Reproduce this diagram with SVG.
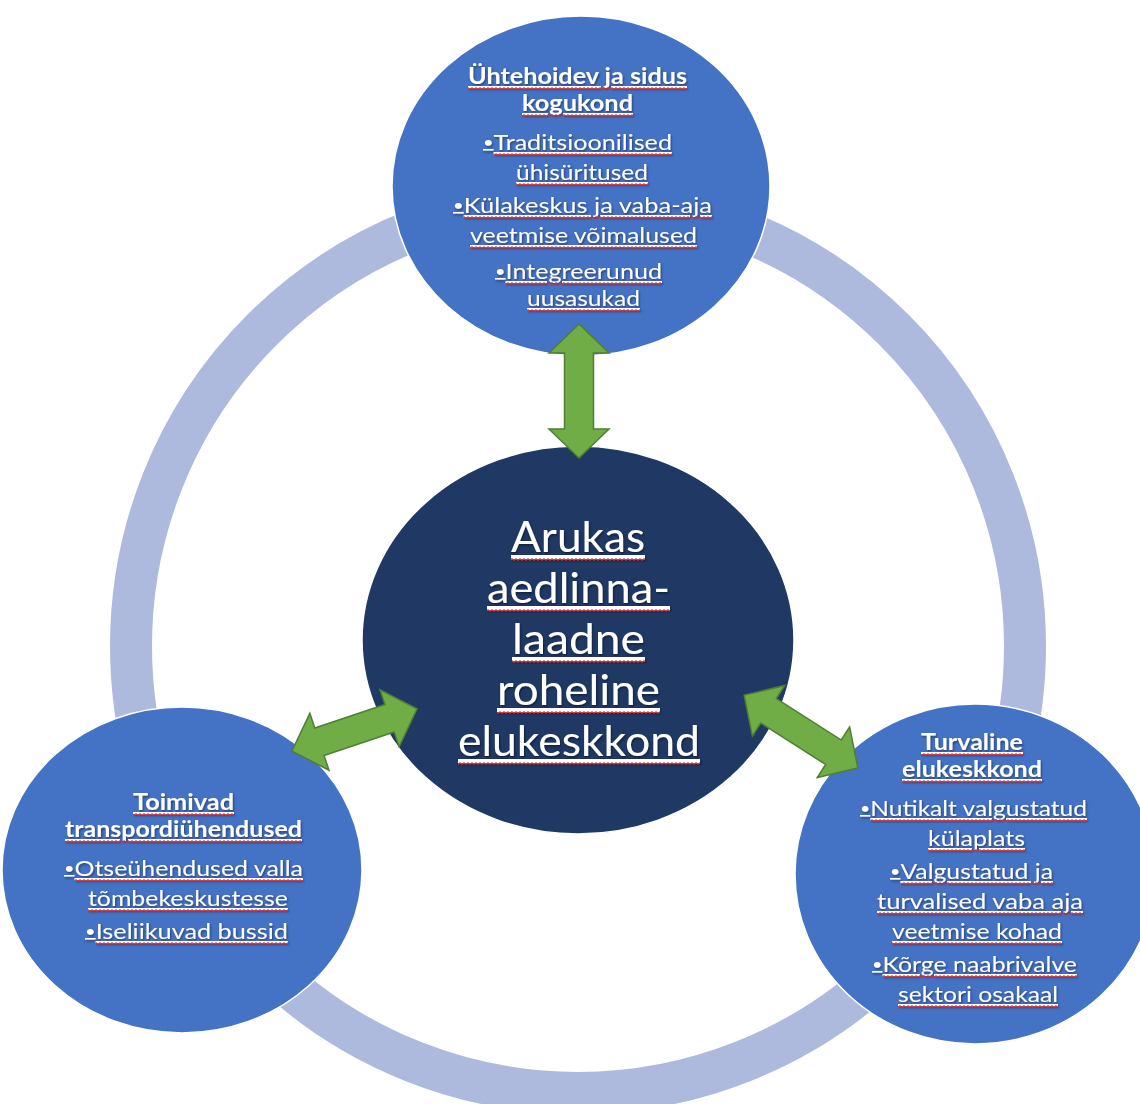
<svg xmlns="http://www.w3.org/2000/svg" width="1140" height="1104" viewBox="0 0 1140 1104">
  <defs>
    <pattern id="wave" x="0" y="0" width="4" height="3" patternUnits="userSpaceOnUse">
      <path d="M0 0.6 L2 2.4 L4 0.6" fill="none" stroke="#e3242b" stroke-width="1.1"/>
    </pattern>
    <filter id="shadow" x="-10%" y="-30%" width="120%" height="160%">
      <feDropShadow dx="1" dy="1.5" stdDeviation="1" flood-color="#000" flood-opacity="0.45"/>
    </filter>
  </defs>
  <style>
    .bg { fill: #ffffff; }
    .ring { fill: none; stroke: #aebadd; stroke-width: 42; }
    .blue { fill: #4472c4; stroke: #ffffff; stroke-width: 1.5; }
    .dark { fill: #1f3864; stroke: #ffffff; stroke-width: 1.5; }
    .arrow { fill: #70ad47; stroke: #507e32; stroke-width: 1.5; stroke-linejoin: miter; }
    text { fill: #ffffff; font-family: Lato, "Open Sans", "Liberation Sans", sans-serif; text-anchor: middle; text-decoration: underline; filter: url(#shadow); }
    .h { font-size: 22px; font-weight: bold; }
    .b { font-size: 22px; font-weight: normal; }
    .c { font-size: 43px; font-weight: normal; }
    .bu { font-size: 16px; }
    .sq { fill: url(#wave); }
    .sqc { fill: url(#wave); }
  </style>
  <rect class="bg" x="0" y="0" width="1140" height="1104"/>

  <g id="ring">
    <circle class="ring" cx="578" cy="646" r="447"/>
  </g>

  <g id="node-top">
    <ellipse class="blue" cx="581" cy="186" rx="189" ry="170"/>
    <text class="h" x="577.5" y="84" textLength="219" lengthAdjust="spacingAndGlyphs">Ühtehoidev ja sidus</text>
    <text class="h" x="577.5" y="111" textLength="111" lengthAdjust="spacingAndGlyphs">kogukond</text>
    <text class="b" x="577.5" y="150" textLength="189" lengthAdjust="spacingAndGlyphs"><tspan class="bu" dy="-2">•</tspan><tspan dy="2">Traditsioonilised</tspan></text>
    <text class="b" x="582" y="180" textLength="132" lengthAdjust="spacingAndGlyphs">ühisüritused</text>
    <text class="b" x="582.5" y="213" textLength="259" lengthAdjust="spacingAndGlyphs"><tspan class="bu" dy="-2">•</tspan><tspan dy="2">Külakeskus ja vaba-aja</tspan></text>
    <text class="b" x="583.5" y="243" textLength="227" lengthAdjust="spacingAndGlyphs">veetmise võimalused</text>
    <text class="b" x="578.5" y="279" textLength="167" lengthAdjust="spacingAndGlyphs"><tspan class="bu" dy="-2">•</tspan><tspan dy="2">Integreerunud</tspan></text>
    <text class="b" x="583.5" y="306" textLength="113" lengthAdjust="spacingAndGlyphs">uusasukad</text>
    <rect class="sq" x="468" y="87" width="219" height="3"/>
    <rect class="sq" x="522" y="114" width="111" height="3"/>
    <rect class="sq" x="494" y="153" width="178" height="3"/>
    <rect class="sq" x="516" y="183" width="132" height="3"/>
    <rect class="sq" x="464" y="216" width="248" height="3"/>
    <rect class="sq" x="470" y="246" width="227" height="3"/>
    <rect class="sq" x="506" y="282" width="156" height="3"/>
    <rect class="sq" x="527" y="309" width="113" height="3"/>
  </g>

  <g id="node-left">
    <ellipse class="blue" cx="182" cy="870" rx="180" ry="163"/>
    <text class="h" x="183.5" y="810" textLength="101" lengthAdjust="spacingAndGlyphs">Toimivad</text>
    <text class="h" x="183.5" y="837" textLength="237" lengthAdjust="spacingAndGlyphs">transpordiühendused</text>
    <text class="b" x="183.5" y="876" textLength="239" lengthAdjust="spacingAndGlyphs"><tspan class="bu" dy="-2">•</tspan><tspan dy="2">Otseühendused valla</tspan></text>
    <text class="b" x="188" y="906" textLength="200" lengthAdjust="spacingAndGlyphs">tõmbekeskustesse</text>
    <text class="b" x="186.5" y="939" textLength="203" lengthAdjust="spacingAndGlyphs"><tspan class="bu" dy="-2">•</tspan><tspan dy="2">Iseliikuvad bussid</tspan></text>
    <rect class="sq" x="133" y="813" width="101" height="3"/>
    <rect class="sq" x="65" y="840" width="237" height="3"/>
    <rect class="sq" x="75" y="879" width="228" height="3"/>
    <rect class="sq" x="88" y="909" width="200" height="3"/>
    <rect class="sq" x="96" y="942" width="192" height="3"/>
  </g>

  <g id="node-right">
    <ellipse class="blue" cx="975" cy="874" rx="180" ry="170"/>
    <text class="h" x="972" y="750" textLength="102" lengthAdjust="spacingAndGlyphs">Turvaline</text>
    <text class="h" x="972" y="777" textLength="140" lengthAdjust="spacingAndGlyphs">elukeskkond</text>
    <text class="b" x="973.5" y="816" textLength="227" lengthAdjust="spacingAndGlyphs"><tspan class="bu" dy="-2">•</tspan><tspan dy="2">Nutikalt valgustatud</tspan></text>
    <text class="b" x="976.5" y="846" textLength="97" lengthAdjust="spacingAndGlyphs">külaplats</text>
    <text class="b" x="971.5" y="879" textLength="163" lengthAdjust="spacingAndGlyphs"><tspan class="bu" dy="-2">•</tspan><tspan dy="2">Valgustatud ja</tspan></text>
    <text class="b" x="980" y="909" textLength="206" lengthAdjust="spacingAndGlyphs">turvalised vaba aja</text>
    <text class="b" x="977" y="939" textLength="170" lengthAdjust="spacingAndGlyphs">veetmise kohad</text>
    <text class="b" x="974.5" y="972" textLength="205" lengthAdjust="spacingAndGlyphs"><tspan class="bu" dy="-2">•</tspan><tspan dy="2">Kõrge naabrivalve</tspan></text>
    <text class="b" x="978" y="1002" textLength="160" lengthAdjust="spacingAndGlyphs">sektori osakaal</text>
    <rect class="sq" x="921" y="753" width="102" height="3"/>
    <rect class="sq" x="902" y="780" width="140" height="3"/>
    <rect class="sq" x="871" y="819" width="216" height="3"/>
    <rect class="sq" x="928" y="849" width="97" height="3"/>
    <rect class="sq" x="901" y="882" width="152" height="3"/>
    <rect class="sq" x="877" y="912" width="206" height="3"/>
    <rect class="sq" x="892" y="942" width="170" height="3"/>
    <rect class="sq" x="883" y="975" width="194" height="3"/>
    <rect class="sq" x="898" y="1005" width="160" height="3"/>
  </g>

  <g id="node-center">
    <ellipse class="dark" cx="578" cy="640" rx="216" ry="194"/>
    <text class="c" x="578" y="552" textLength="134" lengthAdjust="spacingAndGlyphs">Arukas</text>
    <text class="c" x="578.5" y="603" textLength="183" lengthAdjust="spacingAndGlyphs">aedlinna-</text>
    <text class="c" x="578.5" y="654" textLength="133" lengthAdjust="spacingAndGlyphs">laadne</text>
    <text class="c" x="578.5" y="705" textLength="163" lengthAdjust="spacingAndGlyphs">roheline</text>
    <text class="c" x="579" y="756" textLength="242" lengthAdjust="spacingAndGlyphs">elukeskkond</text>
    <rect class="sqc" x="511" y="558" width="134" height="3"/>
    <rect class="sqc" x="487" y="609" width="183" height="3"/>
    <rect class="sqc" x="512" y="660" width="133" height="3"/>
    <rect class="sqc" x="497" y="711" width="163" height="3"/>
    <rect class="sqc" x="458" y="762" width="242" height="3"/>
  </g>

  <g id="connectors">
    <polygon class="arrow" transform="translate(579,391) rotate(90)" points="-67,0 -38,-30 -38,-14.5 38,-14.5 38,-30 67,0 38,30 38,14.5 -38,14.5 -38,30"/>
    <polygon class="arrow" transform="translate(354.5,730) rotate(-18.6)" points="-66,0 -37,-30 -37,-14.5 37,-14.5 37,-30 66,0 37,30 37,14.5 -37,14.5 -37,30"/>
    <polygon class="arrow" transform="translate(801,731.5) rotate(32.6)" points="-67.5,0 -38.5,-30 -38.5,-14.5 38.5,-14.5 38.5,-30 67.5,0 38.5,30 38.5,14.5 -38.5,14.5 -38.5,30"/>
  </g>
</svg>
